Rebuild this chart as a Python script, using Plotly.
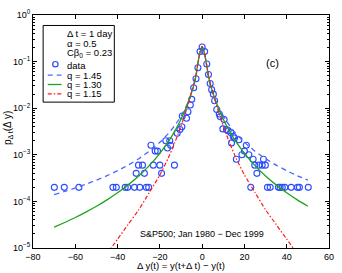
import plotly.graph_objects as go

# ---------------- data ----------------
data_x = [-69.9, -65.2, -58.3, -42.2, -40.6, -36.4, -35.2, -32.0, -29.5, -26.4, -25.3,
          -31.2, -27.3, -19.2,
          -30.1, -28.2, -23.1, -20.0, -13.1,
          -22.2, -21.1, -24.2, -14.9, -16.4, -17.2, -15.3,
          -11.8, -10.5, -9.6, -9.4, -7.4, -6.7,
          -5.6, -4.9, -4.0, -2.9, -2.0, -1.0, 0.0,
          1.2, 2.2, 3.0, 3.8, 4.5, 5.3, 5.9, 6.9, 8.1, 8.5, 10.4, 9.8,
          11.5, 12.3, 13.5, 14.7, 15.3, 17.4, 13.9, 20.9, 18.8, 20.0, 22.1,
          16.2, 24.1, 29.0, 24.9, 26.8, 28.4, 29.9, 25.9,
          23.0, 30.9, 32.2, 36.1, 36.9, 37.9, 39.1, 42.1, 45.1, 46.0, 50.2]
data_p = [2e-4, 2e-4, 2e-4, 2e-4, 2e-4, 2e-4, 2e-4, 2e-4, 2e-4, 2e-4, 2e-4,
          4e-4, 4e-4, 4e-4,
          6e-4, 6e-4, 6e-4, 6e-4, 6e-4,
          1.2e-3, 1.2e-3, 1.6e-3, 1.6e-3, 1.4e-3, 2.0e-3, 2.0e-3,
          2.9e-3, 3.5e-3, 4.0e-3, 6.8e-3, 6.1e-3, 8.4e-3,
          1.17e-2, 1.55e-2, 2.75e-2, 4.3e-2, 7.4e-2, 0.164, 0.205,
          0.164, 0.089, 0.053, 0.034, 0.025, 0.020, 0.0145, 0.0094, 0.0075, 0.0066, 0.0057, 0.0036,
          0.0035, 0.0033, 0.0030, 0.0025, 0.0023, 0.0021, 0.0018, 0.0016, 0.0010, 0.0012, 0.0010,
          8e-4, 8e-4, 8e-4, 6e-4, 6e-4, 6e-4, 6e-4, 4e-4,
          2e-4, 2e-4, 2e-4, 2e-4, 2e-4, 2e-4, 2e-4, 2e-4, 2e-4, 2e-4, 2e-4]

curve_x = [-70, -65, -60, -55, -50, -45, -40, -35, -30, -25, -20, -16, -13, -10, -8, -6, -4, -3, -2, -1,
           0, 1, 2, 3, 4, 6, 8, 10, 13, 16, 20, 25, 30, 35, 40, 45, 50]
q145_p = [1.397e-4, 1.637e-4, 1.941e-4, 2.335e-4, 2.855e-4, 3.56e-4, 4.56e-4, 6.01e-4, 8.25e-4, 1.192e-3,
          1.855e-3, 2.853e-3, 4.21e-3, 6.74e-3, 9.86e-3, 1.561e-2, 2.9e-2, 4.6e-2, 9.2e-2, 0.160,
          0.209,
          0.160, 9.2e-2, 4.6e-2, 2.9e-2, 1.561e-2, 9.86e-3, 6.74e-3, 4.21e-3, 2.853e-3, 1.855e-3,
          1.192e-3, 8.25e-4, 6.01e-4, 4.56e-4, 3.56e-4, 2.855e-4]
q130_p = [2.80e-5, 3.53e-5, 4.51e-5, 5.89e-5, 7.86e-5, 1.079e-4, 1.531e-4, 2.263e-4, 3.525e-4, 5.87e-4,
          1.075e-3, 1.912e-3, 3.18e-3, 5.80e-3, 9.30e-3, 1.609e-2, 3.1e-2, 4.8e-2, 9.2e-2, 0.160,
          0.209,
          0.160, 9.2e-2, 4.8e-2, 3.1e-2, 1.609e-2, 9.30e-3, 5.80e-3, 3.18e-3, 1.912e-3, 1.075e-3,
          5.87e-4, 3.525e-4, 2.263e-4, 1.531e-4, 1.079e-4, 7.86e-5]
red_x = [-45, -40, -35, -30, -25, -20, -16, -13, -10, -8, -6, -4, -3, -2, -1,
         0, 1, 2, 3, 4, 6, 8, 10, 13, 16, 20, 25, 30, 35, 40, 45]
q115_p = [7.5e-6, 1.55e-5, 3.2e-5, 6.6e-5, 1.55e-4, 3.7e-4, 8.55e-4, 1.795e-3, 4.14e-3, 7.69e-3,
          1.528e-2, 3.27e-2, 5.0e-2, 9.2e-2, 0.160,
          0.209,
          0.160, 9.2e-2, 5.0e-2, 3.27e-2, 1.528e-2, 7.69e-3, 4.14e-3, 1.795e-3, 8.55e-4, 3.7e-4,
          1.55e-4, 6.6e-5, 3.2e-5, 1.55e-5, 7.5e-6]

x_tickvals = [-80, -60, -40, -20, 0, 20, 40, 60]
y_tickvals = [1e-5, 1e-4, 1e-3, 1e-2, 1e-1, 1]
y_ticktext = ["10<sup>\u22125</sup>", "10<sup>\u22124</sup>", "10<sup>\u22123</sup>",
              "10<sup>\u22122</sup>", "10<sup>\u22121</sup>", "10<sup>0</sup>"]
y_minor = [k * 10.0 ** e for e in range(-5, 0) for k in range(2, 10)]

legend_header = ["\u0394 t = 1 day", "\u03b1 = 0.5", "C\u03b2<sub>0</sub> = 0.23"]
series_names = ["data", "q = 1.45", "q = 1.30", "q = 1.15"]

BLUE_M = "#2b4cff"
BLUE_L = "#4a66ff"
GREEN = "#1fa31f"
RED = "#ff1a1a"
FONT = "Liberation Sans, Arial, sans-serif"

W, H = 342, 273
L, R, T, B = 33, 8, 10, 25
PW, PH = W - L - R, H - T - B


def px(x):
    return (x - L) / PW


def py(y):
    return 1 - (y - T) / PH


fig = go.Figure()
fig.add_trace(go.Scatter(x=data_x, y=data_p, mode="markers", name=series_names[0],
                         marker=dict(symbol="circle-open", size=6, color=BLUE_M,
                                     line=dict(width=1.1, color=BLUE_M))))
fig.add_trace(go.Scatter(x=curve_x, y=q145_p, mode="lines", name=series_names[1],
                         line=dict(color=BLUE_L, width=1.3, dash="5px,4px", shape="spline", smoothing=0.6)))
fig.add_trace(go.Scatter(x=curve_x, y=q130_p, mode="lines", name=series_names[2],
                         line=dict(color=GREEN, width=1.3, shape="spline", smoothing=0.6)))
fig.add_trace(go.Scatter(x=red_x, y=q115_p, mode="lines", name=series_names[3],
                         line=dict(color=RED, width=1.2, dash="4px,2px,1.5px,2px", shape="spline", smoothing=0.6)))

axis_common = dict(showline=True, linecolor="black", linewidth=1, mirror="allticks",
                   ticks="inside", ticklen=4, tickcolor="black", showgrid=False, zeroline=False,
                   tickfont=dict(family=FONT, size=9, color="black"))

fig.update_layout(
    width=W, height=H, margin=dict(l=L, r=R, t=T, b=B),
    paper_bgcolor="white", plot_bgcolor="white", showlegend=False,
    font=dict(family=FONT, color="black"),
    xaxis=dict(range=[-80, 60], tickvals=x_tickvals, **axis_common),
    yaxis=dict(type="log", range=[-5, 0], tickvals=y_tickvals, ticktext=y_ticktext,
               minor=dict(tickvals=y_minor, ticks="inside", ticklen=2, tickcolor="black"),
               **axis_common),
)

ann = []
ann.append(dict(xref="paper", yref="paper", x=px(7), y=py(125), textangle=-90,
                xanchor="center", yanchor="middle",
                text="p<sub>\u0394 t</sub>(\u0394 y)", showarrow=False,
                font=dict(family=FONT, size=10)))
ann.append(dict(xref="paper", yref="paper", x=px(184), y=py(265.5),
                xanchor="center", yanchor="middle",
                text="\u0394 y(t) = y(t+\u0394 t) \u2212 y(t)", showarrow=False,
                font=dict(family=FONT, size=9.5)))
ann.append(dict(xref="x", yref="y", x=33.5, y=-1.03, text="(c)", showarrow=False,
                xanchor="center", yanchor="middle",
                font=dict(family=FONT, size=11)))
ann.append(dict(xref="x", yref="y", x=0, y=-4.71, text="S&amp;P500; Jan 1980 \u2212 Dec 1999",
                xanchor="center", yanchor="middle",
                showarrow=False, font=dict(family=FONT, size=9)))

# manual legend
ys_head = [29, 39.5, 49]
for t, yy in zip(legend_header, ys_head):
    ann.append(dict(xref="paper", yref="paper", x=px(66), y=py(yy), xanchor="left", yanchor="middle",
                    text=t, showarrow=False, font=dict(family=FONT, size=9.5)))
ys_items = [62, 71.5, 81, 90.5]
for t, yy in zip(series_names, ys_items):
    ann.append(dict(xref="paper", yref="paper", x=px(66), y=py(yy), xanchor="left", yanchor="middle",
                    text=t, showarrow=False, font=dict(family=FONT, size=9.5)))

shapes = [dict(type="rect", xref="paper", yref="paper", x0=px(43.3), x1=px(115.7),
               y0=py(99), y1=py(20.7), line=dict(color="black", width=1), fillcolor="white",
               layer="below")]
shapes.append(dict(type="circle", xref="paper", yref="paper", x0=px(53), x1=px(58.5),
                   y0=py(63), y1=py(57.5), line=dict(color=BLUE_M, width=1.2)))
shapes.append(dict(type="line", xref="paper", yref="paper", x0=px(48), x1=px(62),
                   y0=py(71.5), y1=py(71.5), line=dict(color=BLUE_L, width=1.3, dash="5px,4px")))
shapes.append(dict(type="line", xref="paper", yref="paper", x0=px(48), x1=px(62),
                   y0=py(81), y1=py(81), line=dict(color=GREEN, width=1.3)))
shapes.append(dict(type="line", xref="paper", yref="paper", x0=px(48), x1=px(62),
                   y0=py(90.5), y1=py(90.5), line=dict(color=RED, width=1.2, dash="4px,2px,1.5px,2px")))

fig.update_layout(annotations=ann, shapes=shapes)
fig.write_html("out.html", config={"displayModeBar": False},
               post_script="document.body.style.margin='0';document.body.style.padding='0';")
